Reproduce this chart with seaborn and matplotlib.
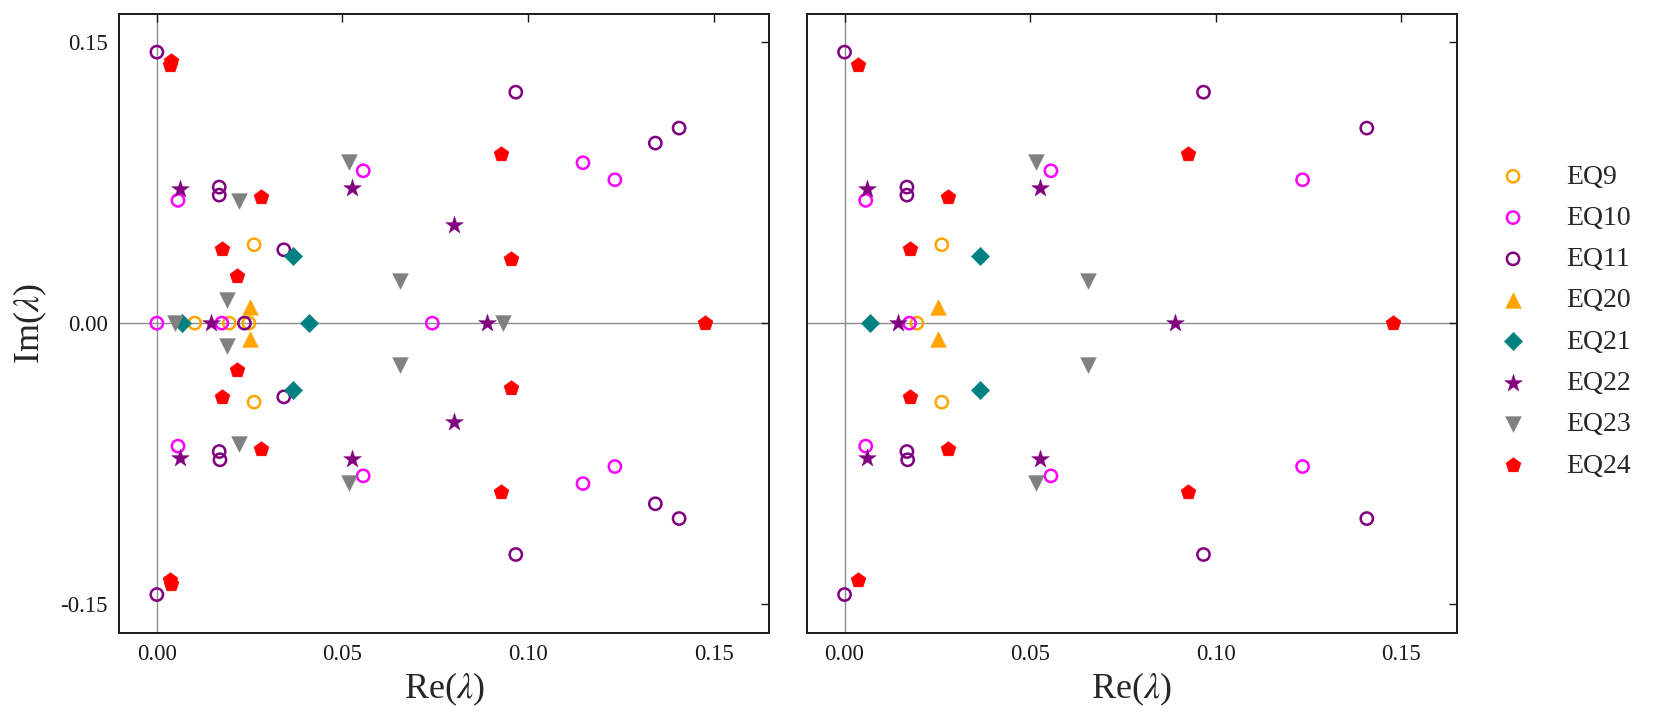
import numpy as np
import matplotlib
matplotlib.use("Agg")
import matplotlib.pyplot as plt
import seaborn as sns

# ---------------- data ----------------
series_names = ["EQ9", "EQ10", "EQ11", "EQ20", "EQ21", "EQ22", "EQ23", "EQ24"]

EQ9_re = [0.0102, 0.0195, 0.0248, 0.0262, 0.0262]
EQ9_im = [0.0, 0.0, 0.0, 0.0419, -0.0422]
EQ9_right = [0, 1, 0, 1, 1]

EQ10_re = [0.0, 0.0175, 0.0742, 0.0057, 0.0057, 0.0556, 0.0556, 0.1148, 0.1148, 0.1234, 0.1234]
EQ10_im = [0.0, 0.0, 0.0, 0.0656, -0.0657, 0.0814, -0.0816, 0.0857, -0.0857, 0.0766, -0.0766]
EQ10_right = [0, 1, 0, 1, 1, 1, 1, 0, 0, 1, 1]

EQ11_re = [0.0, 0.0, 0.0967, 0.0967, 0.0168, 0.0168, 0.0168, 0.0170, 0.0342, 0.0342,
           0.0236, 0.1343, 0.1343, 0.1407, 0.1407]
EQ11_im = [0.1448, -0.1450, 0.1234, -0.1236, 0.0727, 0.0684, -0.0686, -0.0730, 0.0392, -0.0394,
           0.0, 0.0962, -0.0965, 0.1042, -0.1044]
EQ11_right = [1, 1, 1, 1, 1, 1, 1, 1, 0, 0, 0, 0, 0, 1, 1]

EQ20_re = [0.0252, 0.0252]
EQ20_im = [0.0086, -0.0087]
EQ20_right = [1, 1]

EQ21_re = [0.0069, 0.0366, 0.0366, 0.0411]
EQ21_im = [0.0, 0.0357, -0.0357, 0.0]
EQ21_right = [1, 1, 1, 0]

EQ22_re = [0.0145, 0.0889, 0.0061, 0.0061, 0.0526, 0.0526, 0.0800, 0.0800]
EQ22_im = [0.0, 0.0, 0.0716, -0.0718, 0.0722, -0.0725, 0.0524, -0.0527]
EQ22_right = [1, 1, 1, 1, 1, 1, 0, 0]

EQ23_re = [0.0049, 0.0933, 0.0188, 0.0188, 0.0222, 0.0222, 0.0517, 0.0517, 0.0655, 0.0655]
EQ23_im = [0.0, 0.0, 0.0124, -0.0120, 0.0650, -0.0643, 0.0859, -0.0855, 0.0223, -0.0224]
EQ23_right = [0, 0, 0, 0, 0, 0, 1, 1, 1, 1]

EQ24_re = [0.0038, 0.0035, 0.0035, 0.0039, 0.1477, 0.0926, 0.0926, 0.0280, 0.0280,
           0.0175, 0.0175, 0.0215, 0.0215, 0.0954, 0.0954]
EQ24_im = [0.1400, 0.1377, -0.1372, -0.1395, 0.0, 0.0901, -0.0903, 0.0672, -0.0673,
           0.0396, -0.0394, 0.0253, -0.0251, 0.0344, -0.0346]
EQ24_right = [0, 1, 1, 0, 1, 1, 1, 1, 1, 1, 1, 0, 0, 0, 0]

x_ticks = [0.0, 0.05, 0.10, 0.15]
x_ticklabels = ["0.00", "0.05", "0.10", "0.15"]
y_ticks = [-0.15, 0.0, 0.15]
y_ticklabels = ["-0.15", "0.00", "0.15"]

# ---------------- styles ----------------
styles = {
    "EQ9":  dict(marker="o", color="#FFA500", hollow=True,  s=78),
    "EQ10": dict(marker="o", color="#FF00FF", hollow=True,  s=78),
    "EQ11": dict(marker="o", color="#800080", hollow=True,  s=78),
    "EQ20": dict(marker="^", color="#FFA500", hollow=False, s=130),
    "EQ21": dict(marker="D", color="#008080", hollow=False, s=88),
    "EQ22": dict(marker="*", color="#800080", hollow=False, s=180),
    "EQ23": dict(marker="v", color="#808080", hollow=False, s=130),
    "EQ24": dict(marker="p", color="#FF0000", hollow=False, s=130),
}

data = {
    "EQ9": (EQ9_re, EQ9_im, EQ9_right),
    "EQ10": (EQ10_re, EQ10_im, EQ10_right),
    "EQ11": (EQ11_re, EQ11_im, EQ11_right),
    "EQ20": (EQ20_re, EQ20_im, EQ20_right),
    "EQ21": (EQ21_re, EQ21_im, EQ21_right),
    "EQ22": (EQ22_re, EQ22_im, EQ22_right),
    "EQ23": (EQ23_re, EQ23_im, EQ23_right),
    "EQ24": (EQ24_re, EQ24_im, EQ24_right),
}

sns.set_theme(style="white")
plt.rcParams['font.family'] = ['Liberation Serif', 'DejaVu Serif']
plt.rcParams['mathtext.fontset'] = 'stix'
plt.rcParams['axes.unicode_minus'] = False

W, H = 1659, 728
fig = plt.figure(figsize=(W / 100, H / 100), dpi=100)
bottom = 1 - 633.3 / H
height = (633.3 - 14.3) / H
width = 650.3 / W
ax1 = fig.add_axes([119 / W, bottom, width, height])
ax2 = fig.add_axes([806.7 / W, bottom, width, height])

for ax in (ax1, ax2):
    ax.axhline(0, color="#8c8c8c", lw=1.0, zorder=0)
    ax.axvline(0, color="#8c8c8c", lw=1.0, zorder=0)

for name in series_names:
    re, im, keep = data[name]
    re = np.asarray(re)
    im = np.asarray(im)
    keep = np.asarray(keep).astype(bool)
    st = styles[name]
    c = st["color"]
    for ax, mask, lab in ((ax1, np.ones_like(keep), name), (ax2, keep, None)):
        kw = dict(marker=st["marker"], s=st["s"], color=c, edgecolor=c, zorder=3)
        if st["hollow"]:
            kw.update(facecolor="none", linewidth=1.8)
        else:
            kw.update(linewidth=0.3)
        sns.scatterplot(x=re[mask], y=im[mask], ax=ax, legend=False, label=lab, **kw)

for ax in (ax1, ax2):
    ax.set_xlim(-0.0102, 0.165)
    ax.set_ylim(-0.1657, 0.165)
    ax.set_xticks(x_ticks)
    ax.set_xticklabels(x_ticklabels)
    ax.set_yticks(y_ticks)
    ax.set_yticklabels(y_ticklabels)
    ax.tick_params(direction="in", top=True, right=True, length=6, width=1,
                   labelsize=16.5, colors="k", pad=8)
    for sp in ax.spines.values():
        sp.set_color("k")
        sp.set_linewidth(1.4)
    ax.set_xlabel(r"Re($\lambda$)", fontsize=26, labelpad=4)
ax2.tick_params(labelleft=False)
ax1.set_ylabel(r"Im($\lambda$)", fontsize=26, labelpad=8)

handles, labels = ax1.get_legend_handles_labels()
ax2.legend(handles, labels, loc="center left", bbox_to_anchor=(1.0648, 0.504),
           frameon=False, fontsize=20, handlelength=1.0, handletextpad=1.41,
           borderaxespad=0, borderpad=0, labelspacing=0.57, scatterpoints=1)

fig.savefig("out.png", dpi=100)
